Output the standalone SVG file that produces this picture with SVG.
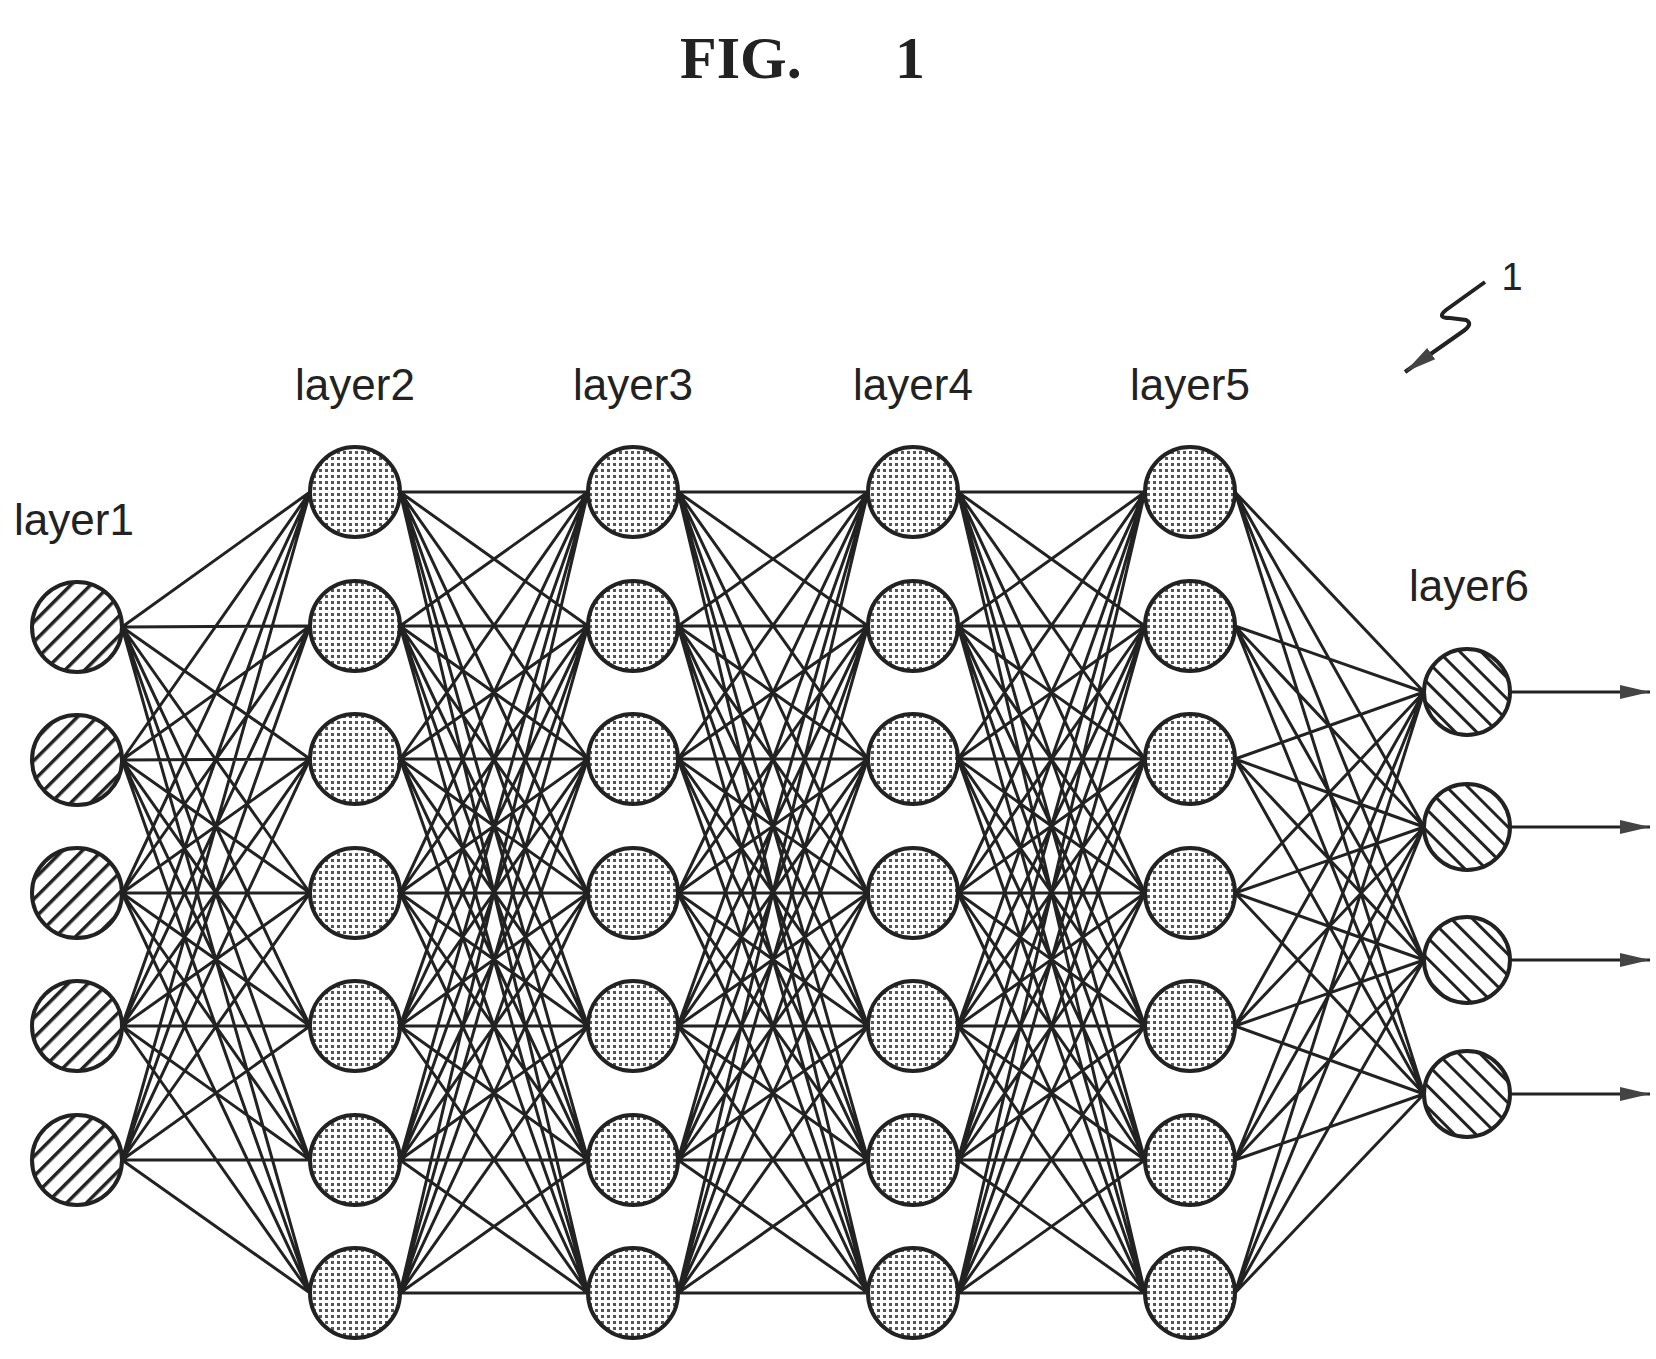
<svg xmlns="http://www.w3.org/2000/svg" width="1656" height="1359" viewBox="0 0 1656 1359">
<style>
.lbl{font-family:"Liberation Sans",Arial,sans-serif;font-size:44px;fill:#222;text-anchor:middle}
.c{stroke:#222;stroke-width:3;fill:none}
.dot{fill:url(#dots);stroke:#222;stroke-width:4}
.h1{fill:url(#hatchA);stroke:#222;stroke-width:4}
.h6{fill:url(#hatchB);stroke:#222;stroke-width:4}
</style>
<defs>
<pattern id="dots" width="6" height="6" patternUnits="userSpaceOnUse"><rect width="6" height="6" fill="#fff"/><rect x="1" y="1" width="3" height="3" fill="#555"/></pattern>
<pattern id="hatchA" width="14" height="14" patternUnits="userSpaceOnUse" patternTransform="rotate(45)"><rect width="14" height="14" fill="#fff"/><rect x="0" y="0" width="3.5" height="14" fill="#222"/></pattern>
<pattern id="hatchB" width="15" height="15" patternUnits="userSpaceOnUse" patternTransform="rotate(-45)"><rect width="15" height="15" fill="#fff"/><rect x="0" y="0" width="3" height="15" fill="#222"/></pattern>
<marker id="out" markerWidth="30" markerHeight="16" refX="30" refY="8" orient="auto" markerUnits="userSpaceOnUse"><path d="M0 1L30 8L0 15z" fill="#444"/></marker>
<marker id="ref" markerWidth="34" markerHeight="18" refX="32" refY="9" orient="auto" markerUnits="userSpaceOnUse"><path d="M0 2L32 9L0 16z" fill="#444"/></marker>
</defs>
<rect width="1656" height="1359" fill="#fff"/>
<text y="78" font-family="Liberation Serif,serif" font-weight="bold" font-size="60" fill="#222"><tspan x="680">FIG.</tspan><tspan x="895">1</tspan></text>
<g id="connectors" class="c">
<path d="M122 627L310 492M122 627L310 626M122 627L310 759M122 627L310 893M122 627L310 1026M122 627L310 1160M122 627L310 1293M122 760L310 492M122 760L310 626M122 760L310 759M122 760L310 893M122 760L310 1026M122 760L310 1160M122 760L310 1293M122 893L310 492M122 893L310 626M122 893L310 759M122 893L310 893M122 893L310 1026M122 893L310 1160M122 893L310 1293M122 1026L310 492M122 1026L310 626M122 1026L310 759M122 1026L310 893M122 1026L310 1026M122 1026L310 1160M122 1026L310 1293M122 1160L310 492M122 1160L310 626M122 1160L310 759M122 1160L310 893M122 1160L310 1026M122 1160L310 1160M122 1160L310 1293"/>
<path d="M400 492L588 492M400 492L588 626M400 492L588 759M400 492L588 893M400 492L588 1026M400 492L588 1160M400 492L588 1293M400 626L588 492M400 626L588 626M400 626L588 759M400 626L588 893M400 626L588 1026M400 626L588 1160M400 626L588 1293M400 759L588 492M400 759L588 626M400 759L588 759M400 759L588 893M400 759L588 1026M400 759L588 1160M400 759L588 1293M400 893L588 492M400 893L588 626M400 893L588 759M400 893L588 893M400 893L588 1026M400 893L588 1160M400 893L588 1293M400 1026L588 492M400 1026L588 626M400 1026L588 759M400 1026L588 893M400 1026L588 1026M400 1026L588 1160M400 1026L588 1293M400 1160L588 492M400 1160L588 626M400 1160L588 759M400 1160L588 893M400 1160L588 1026M400 1160L588 1160M400 1160L588 1293M400 1293L588 492M400 1293L588 626M400 1293L588 759M400 1293L588 893M400 1293L588 1026M400 1293L588 1160M400 1293L588 1293"/>
<path d="M678 492L868 492M678 492L868 626M678 492L868 759M678 492L868 893M678 492L868 1026M678 492L868 1160M678 492L868 1293M678 626L868 492M678 626L868 626M678 626L868 759M678 626L868 893M678 626L868 1026M678 626L868 1160M678 626L868 1293M678 759L868 492M678 759L868 626M678 759L868 759M678 759L868 893M678 759L868 1026M678 759L868 1160M678 759L868 1293M678 893L868 492M678 893L868 626M678 893L868 759M678 893L868 893M678 893L868 1026M678 893L868 1160M678 893L868 1293M678 1026L868 492M678 1026L868 626M678 1026L868 759M678 1026L868 893M678 1026L868 1026M678 1026L868 1160M678 1026L868 1293M678 1160L868 492M678 1160L868 626M678 1160L868 759M678 1160L868 893M678 1160L868 1026M678 1160L868 1160M678 1160L868 1293M678 1293L868 492M678 1293L868 626M678 1293L868 759M678 1293L868 893M678 1293L868 1026M678 1293L868 1160M678 1293L868 1293"/>
<path d="M958 492L1145 492M958 492L1145 626M958 492L1145 759M958 492L1145 893M958 492L1145 1026M958 492L1145 1160M958 492L1145 1293M958 626L1145 492M958 626L1145 626M958 626L1145 759M958 626L1145 893M958 626L1145 1026M958 626L1145 1160M958 626L1145 1293M958 759L1145 492M958 759L1145 626M958 759L1145 759M958 759L1145 893M958 759L1145 1026M958 759L1145 1160M958 759L1145 1293M958 893L1145 492M958 893L1145 626M958 893L1145 759M958 893L1145 893M958 893L1145 1026M958 893L1145 1160M958 893L1145 1293M958 1026L1145 492M958 1026L1145 626M958 1026L1145 759M958 1026L1145 893M958 1026L1145 1026M958 1026L1145 1160M958 1026L1145 1293M958 1160L1145 492M958 1160L1145 626M958 1160L1145 759M958 1160L1145 893M958 1160L1145 1026M958 1160L1145 1160M958 1160L1145 1293M958 1293L1145 492M958 1293L1145 626M958 1293L1145 759M958 1293L1145 893M958 1293L1145 1026M958 1293L1145 1160M958 1293L1145 1293"/>
<path d="M1235 492L1424 692M1235 492L1424 827M1235 492L1424 960M1235 492L1424 1094M1235 626L1424 692M1235 626L1424 827M1235 626L1424 960M1235 626L1424 1094M1235 759L1424 692M1235 759L1424 827M1235 759L1424 960M1235 759L1424 1094M1235 893L1424 692M1235 893L1424 827M1235 893L1424 960M1235 893L1424 1094M1235 1026L1424 692M1235 1026L1424 827M1235 1026L1424 960M1235 1026L1424 1094M1235 1160L1424 692M1235 1160L1424 827M1235 1160L1424 960M1235 1160L1424 1094M1235 1293L1424 692M1235 1293L1424 827M1235 1293L1424 960M1235 1293L1424 1094"/>
<path d="M1510 692L1650 692" marker-end="url(#out)"/>
<path d="M1510 827L1650 827" marker-end="url(#out)"/>
<path d="M1510 960L1650 960" marker-end="url(#out)"/>
<path d="M1510 1094L1650 1094" marker-end="url(#out)"/>
<path d="M1485 282L1446 310Q1436 318 1450 318L1466 320Q1474 324 1462 332L1405 372" marker-end="url(#ref)" stroke-width="4"/>
</g>
<text x="1512" y="290" font-family="Liberation Sans,sans-serif" font-size="38" fill="#222" text-anchor="middle">1</text>
<g id="layer1"><text class="lbl" x="74" y="535">layer1</text>
<circle class="h1" cx="77" cy="627" r="45"/><circle class="h1" cx="77" cy="760" r="45"/><circle class="h1" cx="77" cy="893" r="45"/><circle class="h1" cx="77" cy="1026" r="45"/><circle class="h1" cx="77" cy="1160" r="45"/></g>
<g id="layer2"><text class="lbl" x="355" y="400">layer2</text>
<circle class="dot" cx="355" cy="492" r="45"/><circle class="dot" cx="355" cy="626" r="45"/><circle class="dot" cx="355" cy="759" r="45"/><circle class="dot" cx="355" cy="893" r="45"/><circle class="dot" cx="355" cy="1026" r="45"/><circle class="dot" cx="355" cy="1160" r="45"/><circle class="dot" cx="355" cy="1293" r="45"/></g>
<g id="layer3"><text class="lbl" x="633" y="400">layer3</text>
<circle class="dot" cx="633" cy="492" r="45"/><circle class="dot" cx="633" cy="626" r="45"/><circle class="dot" cx="633" cy="759" r="45"/><circle class="dot" cx="633" cy="893" r="45"/><circle class="dot" cx="633" cy="1026" r="45"/><circle class="dot" cx="633" cy="1160" r="45"/><circle class="dot" cx="633" cy="1293" r="45"/></g>
<g id="layer4"><text class="lbl" x="913" y="400">layer4</text>
<circle class="dot" cx="913" cy="492" r="45"/><circle class="dot" cx="913" cy="626" r="45"/><circle class="dot" cx="913" cy="759" r="45"/><circle class="dot" cx="913" cy="893" r="45"/><circle class="dot" cx="913" cy="1026" r="45"/><circle class="dot" cx="913" cy="1160" r="45"/><circle class="dot" cx="913" cy="1293" r="45"/></g>
<g id="layer5"><text class="lbl" x="1190" y="400">layer5</text>
<circle class="dot" cx="1190" cy="492" r="45"/><circle class="dot" cx="1190" cy="626" r="45"/><circle class="dot" cx="1190" cy="759" r="45"/><circle class="dot" cx="1190" cy="893" r="45"/><circle class="dot" cx="1190" cy="1026" r="45"/><circle class="dot" cx="1190" cy="1160" r="45"/><circle class="dot" cx="1190" cy="1293" r="45"/></g>
<g id="layer6"><text class="lbl" x="1469" y="601">layer6</text>
<circle class="h6" cx="1467" cy="692" r="43"/><circle class="h6" cx="1467" cy="827" r="43"/><circle class="h6" cx="1467" cy="960" r="43"/><circle class="h6" cx="1467" cy="1094" r="43"/></g>
</svg>
